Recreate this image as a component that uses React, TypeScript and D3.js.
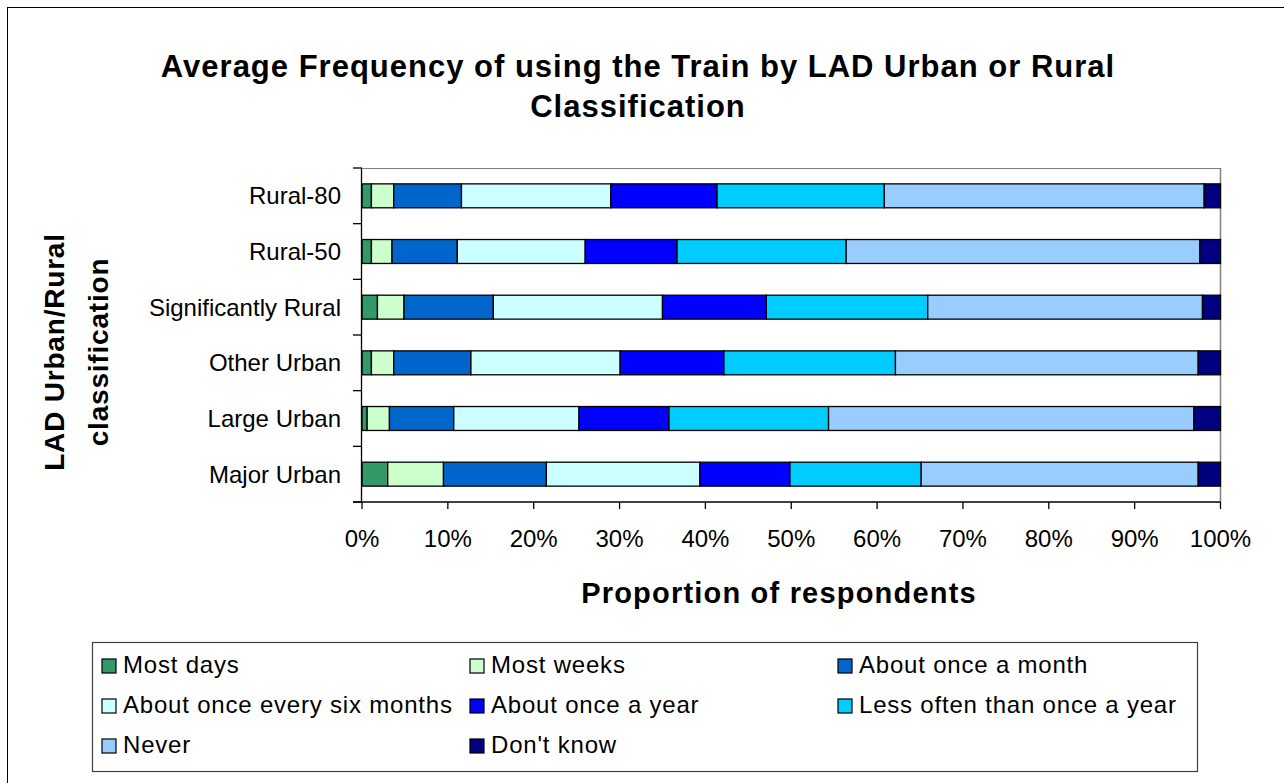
import React from "react";
import * as d3 from "d3";

const categories = ["Rural-80", "Rural-50", "Significantly Rural", "Other Urban", "Large Urban", "Major Urban"];
const seriesNames = [
  "Most days",
  "Most weeks",
  "About once a month",
  "About once every six months",
  "About once a year",
  "Less often than once a year",
  "Never",
  "Don't know",
];
const seriesColors = ["#339966", "#CCFFCC", "#0066CC", "#CCFFFF", "#0000FF", "#00CCFF", "#99CCFF", "#000080"];

const mostDays = [1.1, 1.1, 1.8, 1.1, 0.6, 3.0];
const mostWeeks = [2.6, 2.4, 3.1, 2.6, 2.6, 6.5];
const onceMonth = [7.9, 7.6, 10.4, 9.0, 7.5, 12.0];
const sixMonths = [17.4, 14.9, 19.7, 17.4, 14.6, 17.9];
const onceYear = [12.4, 10.7, 12.1, 12.1, 10.5, 10.5];
const lessOften = [19.5, 19.7, 18.8, 20.0, 18.6, 15.3];
const never = [37.3, 41.2, 32.0, 35.3, 42.6, 32.3];
const dontKnow = [1.9, 2.4, 2.1, 2.6, 3.1, 2.6];

const xTicks = [0, 0.1, 0.2, 0.3, 0.4, 0.5, 0.6, 0.7, 0.8, 0.9, 1.0];

const titleLines = ["Average Frequency of using the Train by LAD Urban or Rural", "Classification"];
const xTitle = "Proportion of respondents";
const yTitleLines = ["LAD Urban/Rural", "classification"];

const FONT = "'Liberation Sans', Arial, Helvetica, sans-serif";

export default function App() {
  const W = 1284;
  const H = 783;
  const left = 362;
  const right = 1220.5;
  const top = 168;
  const bottom = 502;

  const allSeries = [mostDays, mostWeeks, onceMonth, sixMonths, onceYear, lessOften, never, dontKnow];
  const rows = categories.map((c, i) => {
    const r: any = { cat: c };
    allSeries.forEach((s, k) => (r["s" + k] = s[i]));
    return r;
  });
  const keys = allSeries.map((_, k) => "s" + k);
  const stacked = d3.stack<any>().keys(keys).offset(d3.stackOffsetExpand)(rows);

  const x = d3.scaleLinear().domain([0, 1]).range([left, right]);
  const y = d3
    .scaleBand<string>()
    .domain(categories)
    .range([top, bottom])
    .paddingInner(0.57)
    .paddingOuter(0.285);
  const step = y.step();
  const boundaries = d3.range(categories.length + 1).map((i) => top + i * step);

  const legendCols = [102, 470, 838];
  const legendRows = [673, 713, 753];

  return (
    <svg
      width={W}
      height={H}
      style={{ position: "absolute", left: 0, top: 0, background: "#fff" }}
      fontFamily={FONT}
    >
      <rect x={0} y={0} width={W} height={H} fill="#fff" />
      <rect x={7.5} y={7.5} width={W + 20} height={H + 20} fill="none" stroke="#000" strokeWidth={1} />

      {/* title */}
      {titleLines.map((t, i) => (
        <text
          key={i}
          x={638}
          y={77 + i * 40}
          textAnchor="middle"
          fontWeight="bold"
          fontSize={31}
          letterSpacing={1.0}
          fill="#000"
        >
          {t}
        </text>
      ))}

      {/* plot border (top/right) */}
      <line x1={left} x2={right} y1={top + 0.5} y2={top + 0.5} stroke="#808080" strokeWidth={1} />
      <line x1={right} x2={right} y1={top} y2={bottom} stroke="#808080" strokeWidth={1.5} />

      {/* bars */}
      {stacked.map((layer, k) => (
        <g key={k} fill={seriesColors[k]} stroke="#000" strokeWidth={1.3}>
          {layer.map((d: any, i: number) => (
            <rect
              key={i}
              x={x(d[0])}
              y={y(categories[i])}
              width={Math.max(0, x(d[1]) - x(d[0]))}
              height={y.bandwidth()}
            />
          ))}
        </g>
      ))}

      {/* y axis */}
      <line x1={left - 0.5} x2={left - 0.5} y1={top} y2={bottom} stroke="#000" strokeWidth={1.3} />
      {boundaries.map((b, i) => (
        <line key={i} x1={left - 9} x2={left} y1={b} y2={b} stroke="#000" strokeWidth={1.3} />
      ))}
      {categories.map((c) => (
        <text
          key={c}
          x={341}
          y={(y(c) as number) + y.bandwidth() / 2}
          dy="0.36em"
          textAnchor="end"
          fontSize={24}
          fill="#000"
        >
          {c}
        </text>
      ))}

      {/* x axis */}
      <line x1={left - 9} x2={right} y1={bottom} y2={bottom} stroke="#000" strokeWidth={1.3} />
      {xTicks.map((t) => (
        <g key={t}>
          <line x1={x(t)} x2={x(t)} y1={bottom} y2={bottom + 7} stroke="#000" strokeWidth={1.3} />
          <text x={x(t)} y={547} textAnchor="middle" fontSize={24} fill="#000">
            {d3.format(".0%")(t)}
          </text>
        </g>
      ))}

      {/* axis titles */}
      <text x={779} y={603} textAnchor="middle" fontWeight="bold" fontSize={29} letterSpacing={1.2} fill="#000">
        {xTitle}
      </text>
      {yTitleLines.map((t, i) => (
        <text
          key={i}
          transform={`translate(${64 + i * 44},352) rotate(-90)`}
          textAnchor="middle"
          fontWeight="bold"
          fontSize={28}
          letterSpacing={0.8}
          fill="#000"
        >
          {t}
        </text>
      ))}

      {/* legend */}
      <rect x={92.5} y={642.5} width={1105} height={129} fill="#fff" stroke="#404040" strokeWidth={1.2} />
      {seriesNames.map((name, k) => {
        const cx = legendCols[k % 3];
        const cy = legendRows[Math.floor(k / 3)];
        return (
          <g key={name}>
            <rect x={cx} y={cy - 14} width={14} height={14} fill={seriesColors[k]} stroke="#000" strokeWidth={1.2} />
            <text x={cx + 21} y={cy} fontSize={24} letterSpacing={0.8} fill="#000">
              {name}
            </text>
          </g>
        );
      })}
    </svg>
  );
}
